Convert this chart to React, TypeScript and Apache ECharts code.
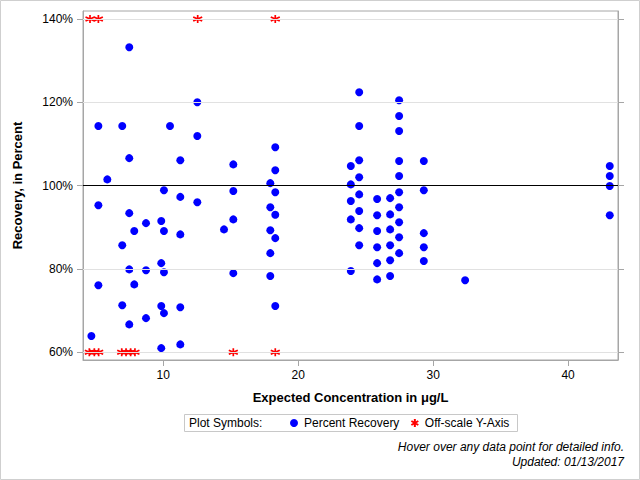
import React, { useEffect, useRef } from "react";
import * as echarts from "echarts";

// Percent recovery points: expected concentration (µg/L) and recovery (%)
const recoveryX: number[] = [
  4.67,
  5.19, 5.19, 5.19,
  5.85,
  6.96, 6.96, 6.96,
  7.48, 7.48, 7.48, 7.48, 7.48,
  7.85, 7.85,
  8.72, 8.72, 8.72,
  9.85, 9.85, 9.85, 9.85,
  10.05, 10.05, 10.05, 10.05,
  10.5,
  11.26, 11.26, 11.26, 11.26, 11.26,
  12.52, 12.52, 12.52,
  14.5,
  15.19, 15.19, 15.19, 15.19,
  17.93, 17.93, 17.93, 17.93, 17.93,
  18.3, 18.3, 18.3, 18.3, 18.3, 18.3,
  23.9, 23.9, 23.9, 23.9, 23.9,
  24.52, 24.52, 24.52, 24.52, 24.52, 24.52, 24.52, 24.52,
  25.85, 25.85, 25.85, 25.85, 25.85, 25.85,
  26.81, 26.81, 26.81, 26.81, 26.81, 26.81,
  27.48, 27.48, 27.48, 27.48, 27.48, 27.48, 27.48, 27.48, 27.48, 27.48,
  29.31, 29.31, 29.31, 29.31, 29.31,
  32.37,
  43.09, 43.09, 43.09, 43.09,
];
const recoveryY: number[] = [
  63.9,
  114.3, 95.3, 76.1,
  101.5,
  114.3, 85.7, 71.3,
  133.2, 106.6, 93.4, 79.9, 66.7,
  89.1, 76.3,
  91.0, 79.7, 68.2,
  91.5, 81.4, 71.1, 61.0,
  98.9, 89.1, 79.2, 69.4,
  114.3,
  106.1, 97.3, 88.3, 70.8, 61.9,
  120.0, 111.9, 96.0,
  89.5,
  105.1, 98.7, 91.9, 79.0,
  100.6, 94.8, 89.3, 83.8, 78.3,
  109.2, 103.7, 98.4, 93.0, 87.4, 71.1,
  104.7, 100.3, 96.3, 91.9, 79.5,
  122.4, 114.3, 106.1, 102.0, 97.9, 93.9, 89.8, 85.7,
  96.8, 92.9, 89.1, 85.2, 81.4, 77.5,
  97.0, 93.1, 89.5, 85.7, 82.1, 78.3,
  120.5, 116.7, 113.1, 105.9, 102.3, 98.4, 94.8, 91.2, 87.6, 83.8,
  105.9, 98.9, 88.6, 85.2, 81.9,
  77.3,
  104.7, 102.3, 99.9, 92.9,
];

// Off-scale points (plotted at the axis limits)
const offScaleHighX: number[] = [4.57, 5.19, 12.55, 18.3];
const offScaleLowX: number[] = [4.52, 4.89, 5.21, 6.92, 7.24, 7.58, 7.9, 15.19, 18.3];
const offScaleHighY = 140;
const offScaleLowY = 60;

const yTicks: number[] = [60, 80, 100, 120, 140];
const xTicks: number[] = [10, 20, 30, 40];
const gridLines: number[] = [60, 80, 120, 140];
const referenceLine = 100;

const FONT = "'Liberation Sans', Arial, Helvetica, sans-serif";
const STAR = "path://M5,0L5,10M0.67,2.5L9.33,7.5M0.67,7.5L9.33,2.5";

export default function App() {
  const ref = useRef<HTMLDivElement>(null);

  useEffect(() => {
    document.body.style.margin = "0";
    if (!ref.current) return;
    const chart = echarts.init(ref.current, undefined, { renderer: "svg" });

    const recoveryData = recoveryX.map((x, i) => [x, recoveryY[i]]);
    const offData = [
      ...offScaleHighX.map((x) => [x, offScaleHighY]),
      ...offScaleLowX.map((x) => [x, offScaleLowY]),
    ];

    const yMin = 58.15;
    const yMax = 141.92;

    chart.setOption({
      animation: false,
      backgroundColor: "#ffffff",
      textStyle: { fontFamily: FONT },
      grid: {
        left: 83,
        right: 22,
        top: 11,
        bottom: 120,
        show: true,
        borderColor: "#a6a6a6",
        borderWidth: 1,
        containLabel: false,
      },
      xAxis: {
        type: "value",
        min: 4.05,
        max: 43.7,
        name: "Expected Concentration in \u03bcg/L",
        nameLocation: "middle",
        nameGap: 31,
        nameTextStyle: { fontFamily: FONT, fontSize: 13, fontWeight: "bold", color: "#000" },
        axisLine: { show: true, lineStyle: { color: "#a6a6a6" } },
        axisTick: { show: true, customValues: xTicks, length: 6, lineStyle: { color: "#a6a6a6" } },
        axisLabel: { customValues: xTicks, fontFamily: FONT, fontSize: 12, color: "#000", margin: 9 },
        splitLine: { show: false },
      },
      yAxis: [
        {
          type: "value",
          min: yMin,
          max: yMax,
          name: "Recovery, in Percent",
          nameLocation: "middle",
          nameGap: 59,
          nameRotate: 90,
          nameTextStyle: { fontFamily: FONT, fontSize: 13, fontWeight: "bold", color: "#000" },
          axisLine: { show: true, lineStyle: { color: "#a6a6a6" } },
          axisTick: { show: true, customValues: yTicks, length: 6, lineStyle: { color: "#a6a6a6" } },
          axisLabel: {
            customValues: yTicks,
            formatter: "{value}%",
            fontFamily: FONT,
            fontSize: 12,
            color: "#000",
            margin: 10,
          },
          splitLine: { show: false },
        },
        {
          type: "value",
          position: "right",
          min: yMin,
          max: yMax,
          axisLine: { show: true, lineStyle: { color: "#a6a6a6" } },
          axisTick: { show: true, customValues: yTicks, length: 6, lineStyle: { color: "#a6a6a6" } },
          axisLabel: { show: false },
          splitLine: { show: false },
        },
      ],
      legend: {
        data: ["Percent Recovery", "Off-scale Y-Axis"],
        left: 290,
        top: 417,
        itemWidth: 8,
        itemHeight: 8,
        itemGap: 11,
        padding: 0,
        textStyle: { fontFamily: FONT, fontSize: 12, color: "#000", padding: [0, 0, 0, 1] },
        selectedMode: false,
      },
      series: [
        {
          name: "grid",
          type: "scatter",
          data: [],
          z: 1,
          silent: true,
          markLine: {
            silent: true,
            symbol: "none",
            label: { show: false },
            animation: false,
            data: [
              ...gridLines.map((v) => ({ yAxis: v, lineStyle: { color: "#e1e1e1", width: 1, type: "solid" } })),
              { yAxis: referenceLine, lineStyle: { color: "#000000", width: 1, type: "solid" } },
            ],
          },
        },
        {
          name: "Percent Recovery",
          type: "scatter",
          data: recoveryData,
          symbol: "circle",
          symbolSize: 8,
          z: 3,
          itemStyle: { color: "#0000ff", opacity: 1 },
        },
        {
          name: "Off-scale Y-Axis",
          type: "scatter",
          data: offData,
          symbol: STAR,
          symbolSize: [9, 8],
          z: 3,
          itemStyle: { color: "#ff0000", borderColor: "#ff0000", borderWidth: 1.6, opacity: 1 },
        },
      ],
      graphic: [
        {
          type: "rect",
          shape: { x: 0.5, y: 0.5, width: 639, height: 479 },
          style: { fill: "none", stroke: "#cfcfcf", lineWidth: 1 },
          silent: true,
          z: -1,
        },
        {
          type: "rect",
          shape: { x: 184.5, y: 414.5, width: 333, height: 17 },
          style: { fill: "none", stroke: "#c8c8c8", lineWidth: 1 },
          silent: true,
        },
        {
          type: "text",
          x: 189,
          y: 423,
          style: {
            text: "Plot Symbols:",
            fontFamily: FONT,
            fontSize: 12,
            fill: "#000",
            verticalAlign: "middle",
          },
          silent: true,
        },
        {
          type: "text",
          x: 624,
          y: 447,
          style: {
            text: "Hover over any data point for detailed info.",
            fontFamily: FONT,
            fontSize: 12,
            fontStyle: "italic",
            fill: "#000",
            align: "right",
            verticalAlign: "middle",
          },
          silent: true,
        },
        {
          type: "text",
          x: 624,
          y: 462,
          style: {
            text: "Updated: 01/13/2017",
            fontFamily: FONT,
            fontSize: 12,
            fontStyle: "italic",
            fill: "#000",
            align: "right",
            verticalAlign: "middle",
          },
          silent: true,
        },
      ],
    });

    return () => {
      chart.dispose();
    };
  }, []);

  return <div ref={ref} style={{ width: 640, height: 480 }} />;
}
